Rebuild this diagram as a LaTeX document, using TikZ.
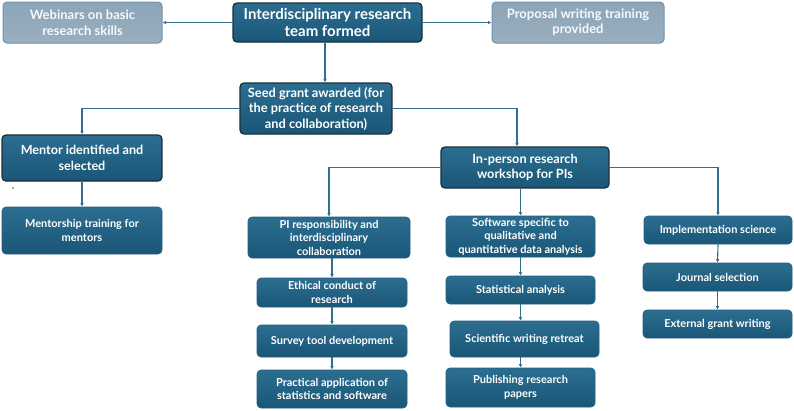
\documentclass[tikz,border=0pt]{standalone}
\usepackage{fontspec}
\setmainfont{Lato}
\usetikzlibrary{arrows.meta,calc}
\definecolor{boxtop}{HTML}{2C6E90}
\definecolor{boxbot}{HTML}{1A5677}
\definecolor{boxline}{HTML}{1D2F3B}
\definecolor{subline}{HTML}{235F80}
\definecolor{lighttop}{HTML}{8CA5B8}
\definecolor{lightbot}{HTML}{9AAFBF}
\definecolor{lightline}{HTML}{6F93AD}
\definecolor{conn}{HTML}{2F6F90}
\tikzset{
  base/.style={rounded corners=4pt, align=center, text=white, font=\bfseries, inner sep=1pt},
  mainbox/.style={base, draw=boxline, line width=1.3pt, top color=boxtop, bottom color=boxbot},
  subbox/.style={base, draw=subline, line width=0.6pt, top color=boxtop, bottom color=boxbot},
  lightbox/.style={base, draw=lightline, line width=1pt, top color=lighttop, bottom color=lightbot, text=white!93!lighttop},
  conn/.style={draw=conn, line width=1.1pt, -{Latex[length=3.5pt,width=3.5pt]}},
  smallf/.style={font=\bfseries\fontsize{11}{13.5}\selectfont},
}
\begin{document}
\begin{tikzpicture}[x=1pt,y=-1pt]
\useasboundingbox[fill=white] (0,0) rectangle (794,410);
% top row
\node[mainbox, minimum width=189pt, minimum height=39pt, font=\bfseries\fontsize{15}{17}\selectfont] (top) at (327.5,22.5) {Interdisciplinary research\\team formed};
\node[lightbox, minimum width=159pt, minimum height=41pt, font=\bfseries\fontsize{13}{15.5}\selectfont] (web) at (82.5,22.5) {Webinars on basic\\research skills};
\node[lightbox, minimum width=172pt, minimum height=41pt, font=\bfseries\fontsize{13}{15.5}\selectfont] (prop) at (578,22.5) {Proposal writing training\\provided};
% seed
\node[mainbox, minimum width=152pt, minimum height=51pt, font=\bfseries\fontsize{12.8}{15.5}\selectfont] (seed) at (316,108.5) {Seed grant awarded (for\\the practice of research\\and collaboration)};
% mentor
\node[mainbox, minimum width=160pt, minimum height=46pt, font=\bfseries\fontsize{12.6}{16}\selectfont] (mentor) at (82,158) {Mentor identified and\\selected};
\node[subbox, minimum width=160pt, minimum height=47pt, smallf, font=\bfseries\fontsize{11}{14.5}\selectfont] (mtrain) at (82,230.5) {Mentorship training for\\mentors};
% in-person
\node[mainbox, minimum width=168pt, minimum height=41pt, font=\bfseries\fontsize{12.7}{15.5}\selectfont] (inperson) at (525,167.5) {In-person research\\workshop for PIs};
% column 1
\node[subbox, minimum width=162pt, minimum height=41pt, smallf] (pi) at (329,237.5) {PI responsibility and\\interdisciplinary\\collaboration};
\node[subbox, minimum width=150pt, minimum height=29pt, smallf] (ethic) at (332,292.5) {Ethical conduct of\\research};
\node[subbox, minimum width=150pt, minimum height=32pt, smallf] (survey) at (332,341) {Survey tool development};
\node[subbox, minimum width=150pt, minimum height=38pt, smallf] (practical) at (332,389) {Practical application of\\statistics and software};
% column 2
\node[subbox, minimum width=149pt, minimum height=41pt, smallf] (soft) at (520.5,236.5) {Software specific to\\qualitative and\\quantitative data analysis};
\node[subbox, minimum width=149pt, minimum height=28pt, smallf] (stat) at (520.5,290) {Statistical analysis};
\node[subbox, minimum width=149pt, minimum height=36pt, smallf] (sci) at (524.5,339) {Scientific writing retreat};
\node[subbox, minimum width=149pt, minimum height=39pt, smallf] (pub) at (520.5,387.5) {Publishing research\\papers};
% column 3
\node[subbox, minimum width=148pt, minimum height=28pt, smallf] (impl) at (718,230) {Implementation science};
\node[subbox, minimum width=149pt, minimum height=28pt, smallf] (journal) at (717.5,277) {Journal selection};
\node[subbox, minimum width=149pt, minimum height=28pt, smallf] (ext) at (717.5,324) {External grant writing};
% stray dot
\fill[black!70] (13,188) circle (0.8pt);
% connectors
\draw[conn] (top.west) -- (web.east);
\draw[conn] (top.east) -- (prop.west);
\draw[conn] ([xshift=-2.5pt]top.south) -- ([xshift=-2.5pt]top.south |- seed.north);
\draw[conn] (seed.west) -| (mentor.north);
\draw[conn] (seed.east) -| ([xshift=-8pt]inperson.north);
\draw[conn] (mentor.south) -- (mtrain.north);
\draw[conn] (inperson.west) -| (pi.north);
\draw[conn] (inperson.east) -| (impl.north);
\draw[conn] (inperson.south -| soft.north) -- (soft.north);
\draw[conn] (pi.south -| ethic.north) -- (ethic.north);
\draw[conn] (ethic.south) -- (survey.north);
\draw[conn] (survey.south) -- (practical.north);
\draw[conn] (soft.south) -- (stat.north);
\draw[conn] (stat.south) -- (stat.south |- sci.north);
\draw[conn] (sci.south -| pub.north) -- (pub.north);
\draw[conn] (impl.south) -- (journal.north);
\draw[conn] (journal.south) -- (ext.north);
\end{tikzpicture}
\end{document}
